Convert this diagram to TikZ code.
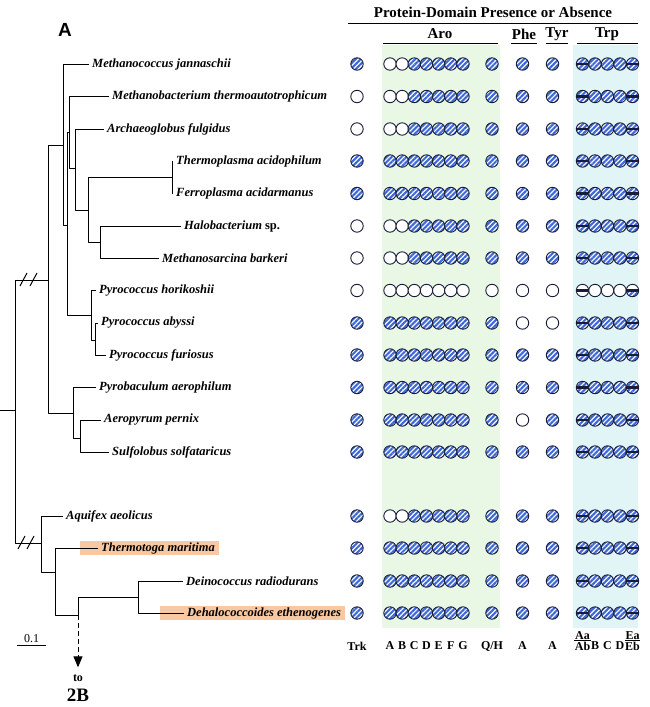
\documentclass[tikz,border=0pt]{standalone}
\usepackage{fontspec}
\setmainfont{Liberation Serif}
\newfontfamily\panelfont{Liberation Sans}
\usetikzlibrary{positioning,arrows.meta,patterns.meta,backgrounds}
\definecolor{hatblue}{RGB}{62,104,214}
\definecolor{outl}{RGB}{24,28,56}
\definecolor{arobg}{RGB}{233,247,229}
\definecolor{trpbg}{RGB}{225,245,247}
\definecolor{hilite}{RGB}{248,200,162}
\def\colx{{357,390,402.2,414.3,426.5,438.7,450.8,463,492,522.5,552.5,582.5,595,607.5,620,632.5}}
\tikzset{
  taxon/.style={anchor=west,inner xsep=4pt,inner ysep=1pt,font=\bfseries\itshape\fontsize{12.5}{14}\selectfont},
  branch/.style={line width=1pt,line cap=rect},
  brk/.style={line width=1pt},
  hdr/.style={font=\bfseries\fontsize{15}{16}\selectfont,inner sep=1pt},
  collbl/.style={font=\bfseries\fontsize{12}{13}\selectfont,inner sep=0.5pt},
  dom/.style={circle,draw=outl,line width=0.9pt,minimum size=12.4pt,inner sep=0pt,fill=white},
  hatch/.style={pattern={Lines[angle=45,distance=3.5pt,line width=2.1pt]},pattern color=hatblue},
  domo/.style={dom},
  domh/.style={dom,preaction={fill=white},hatch},
  doms/.style={domh,path picture={\draw[outl,line width=2.2pt] (path picture bounding box.west) -- (path picture bounding box.east);}},
  domt/.style={dom,path picture={\draw[outl,line width=2.2pt] (path picture bounding box.west) -- (path picture bounding box.east);}},
  domu/.style={dom,path picture={\fill[hatch] (path picture bounding box.west) rectangle (path picture bounding box.south east);
    \draw[outl,line width=2.2pt] (path picture bounding box.west) -- (path picture bounding box.east);}}
}
\begin{document}
\begin{tikzpicture}[x=1pt,y=-1pt,line join=round,>=Triangle]
\useasboundingbox (0,0) rectangle (649,707);
% panel letter and table heads
\node[font=\panelfont\bfseries\fontsize{19}{20}\selectfont,inner sep=0pt] (panel) at (65,30) {A};
\node[hdr] (pdpa) at (493,12) {Protein-Domain Presence or Absence};
\draw[line width=1pt] (348,23) -- (638,23);
\foreach \g/\x/\a/\b in {Aro/440/383/498,Phe/524/511/537,Tyr/557/546/568,Trp/607/577/638}{
  \node[hdr] (h\g) at (\x,34) {\g};
  \draw[line width=1pt] (\a,43) -- (\b,43);
}
% shaded columns
\fill[arobg] (382,45) rectangle (500,628);
\fill[trpbg] (573,45) rectangle (638,628);
% tree
\path
  (0,410) coordinate (stub)
  (15,410) coordinate (root)
  (48,280) coordinate (arch)
  (63,145) coordinate (n1)
  (67,225) coordinate (n2)
  (69,132) coordinate (n3)
  (75,168) coordinate (n4)
  (88,210) coordinate (n5)
  (172,177) coordinate (ntf)
  (100,242) coordinate (nhm)
  (91,315) coordinate (npyr)
  (95,340) coordinate (npaf)
  (73,413) coordinate (ncren)
  (80,438) coordinate (nas)
  (41,543) coordinate (bact)
  (55,572) coordinate (ntd)
  (78,615) coordinate (ndd)
  (138,597) coordinate (nde)
  ;
\node[taxon] (mja) at (88,64) {Methanococcus jannaschii};
\node[taxon] (mth) at (108,96.5) {Methanobacterium thermoautotrophicum};
\node[taxon] (afu) at (103,129) {Archaeoglobus fulgidus};
\node[taxon] (tac) at (172,161) {Thermoplasma acidophilum};
\node[taxon] (fac) at (172,193.5) {Ferroplasma acidarmanus};
\node[taxon] (hal) at (180,226) {Halobacterium \upshape sp.};
\node[taxon] (mba) at (158,258) {Methanosarcina barkeri};
\node[taxon] (pho) at (95,290.5) {Pyrococcus horikoshii};
\node[taxon] (pab) at (97,323) {Pyrococcus abyssi};
\node[taxon] (pfu) at (105,355) {Pyrococcus furiosus};
\node[taxon] (pae) at (95,387.5) {Pyrobaculum aerophilum};
\node[taxon] (ape) at (100,420) {Aeropyrum pernix};
\node[taxon] (sso) at (108,452) {Sulfolobus solfataricus};
\node[taxon] (aae) at (62,516) {Aquifex aeolicus};
\node[taxon] (tma) at (97,548) {Thermotoga maritima};
\node[taxon] (dra) at (182,581) {Deinococcus radiodurans};
\node[taxon] (det) at (183,613) {Dehalococcoides ethenogenes};
\begin{scope}[on background layer]
  \fill[hilite] ([xshift=-17pt]tma.south west) rectangle (tma.north east);
  \fill[hilite] ([xshift=-23pt]det.south west) rectangle (det.north east);
\end{scope}
\draw[branch] (stub) -- (root) (root) |- (arch) (root) |- (bact)
  (arch) |- (n1) (arch) |- (ncren)
  (n1) |- (mja.west) (n1) |- (n2)
  (n2) |- (n3) (n2) |- (npyr)
  (n3) |- (mth.west) (n3) |- (n4)
  (n4) |- (afu.west) (n4) |- (n5)
  (n5) |- (ntf) (n5) |- (nhm)
  (ntf) |- (tac.west) (ntf) |- (fac.west)
  (nhm) |- (hal.west) (nhm) |- (mba.west)
  (npyr) |- (pho.west) (npyr) |- (npaf)
  (npaf) |- (pab.west) (npaf) |- (pfu.west)
  (ncren) |- (pae.west) (ncren) |- (nas)
  (nas) |- (ape.west) (nas) |- (sso.west)
  (bact) |- (aae.west) (bact) |- (ntd)
  (ntd) |- (tma.west) (ntd) |- (ndd)
  (ndd) |- (nde)
  (nde) |- (dra.west) (nde) |- (det.west);
% broken branches
\draw[brk] (20,286) -- (27,273) (30,286) -- (37,273);
\draw[brk] (18,549) -- (25,536) (27,549) -- (34,536);
% link to panel B
\node[font=\bfseries\fontsize{12}{13}\selectfont,inner sep=1pt] (tolbl) at (78,678) {to};
\node[font=\bfseries\fontsize{19}{20}\selectfont,inner sep=0pt] (twob) at (78,695) {2B};
\draw[line width=1pt,dash pattern=on 5pt off 3pt,-{Triangle[length=11pt,width=9pt]}] (ndd) -- ([yshift=6pt]tolbl.north);
% scale bar
\path (17,645) coordinate (sbl) (46,645) coordinate (sbr);
\draw[line width=0.9pt] (sbl) -- (sbr) node[midway,above=1.5pt,font=\fontsize{12}{13}\selectfont,inner sep=0pt] (sblbl) {0.1};
% presence / absence
\foreach \y/\r [count=\j] in {
  64/{h,o,o,h,h,h,h,h,h,h,h,s,h,h,h,s},
  96.5/{o,o,o,h,h,h,h,h,h,h,h,s,h,h,h,s},
  129/{o,o,o,h,h,h,h,h,h,h,h,s,h,h,h,s},
  161/{h,h,h,h,h,h,h,h,h,h,h,s,h,h,h,s},
  193.5/{h,h,h,h,h,h,h,h,h,h,h,s,h,h,h,s},
  226/{o,o,o,h,h,h,h,h,h,h,h,s,h,h,h,s},
  258/{o,o,o,h,h,h,h,h,h,h,h,s,h,h,h,s},
  290.5/{o,o,o,o,o,o,o,o,o,o,o,t,o,o,o,u},
  323/{h,h,h,h,h,h,h,h,h,o,o,s,h,h,h,s},
  355/{h,h,h,h,h,h,h,h,h,h,h,s,h,h,h,s},
  387.5/{h,h,h,h,h,h,h,h,h,h,h,s,h,h,h,s},
  420/{h,h,h,h,h,h,h,h,h,o,h,s,h,h,h,s},
  452/{h,h,h,h,h,h,h,h,h,h,h,s,h,h,h,s},
  516/{h,o,o,h,h,h,h,h,h,h,h,s,h,h,h,s},
  548/{h,h,h,h,h,h,h,h,h,h,h,s,h,h,h,s},
  581/{h,h,h,h,h,h,h,h,h,h,h,s,h,h,h,s},
  613/{h,h,h,h,h,h,h,h,h,h,h,s,h,h,h,s}}
  \foreach \c [count=\i] in \r {
    \pgfmathsetmacro\xx{\colx[\i-1]}
    \node[dom\c] (d\j-\i) at (\xx,\y) {};
  }
% column letters
\foreach \t [count=\i] in {Trk,A,B,C,D,E,F,G,Q/H,A,A,Ab,B,C,D,Eb}{
  \pgfmathsetmacro\xx{\colx[\i-1]}
  \node[collbl] (b\i) at (\xx,646) {\t};
}
\node[collbl,above=1pt of b12] (taa) {Aa};
\node[collbl,above=1pt of b16] (tea) {Ea};
\draw[line width=0.8pt] ([yshift=-0.5pt]taa.south west) -- ([yshift=-0.5pt]taa.south east)
  ([yshift=-0.5pt]tea.south west) -- ([yshift=-0.5pt]tea.south east);
\end{tikzpicture}
\end{document}
